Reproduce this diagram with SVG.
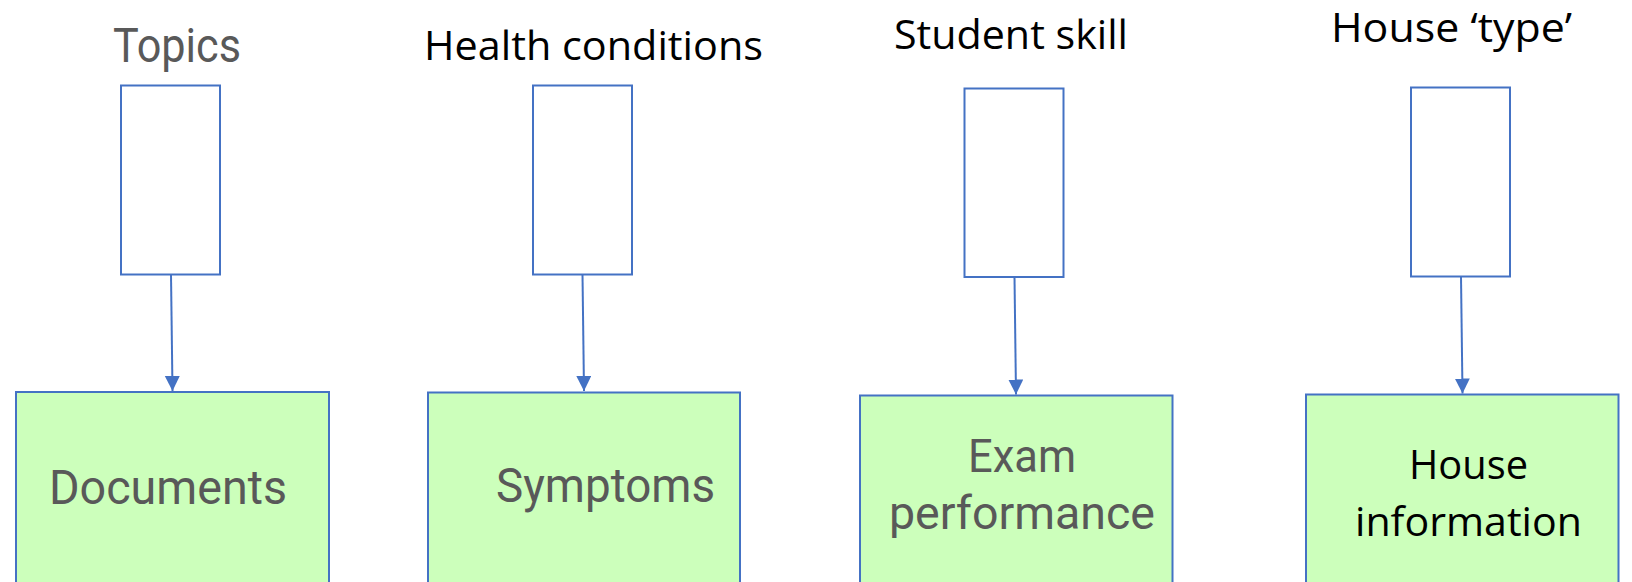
<svg xmlns="http://www.w3.org/2000/svg" width="1632" height="582" viewBox="0 0 1632 582">
  <style>
    .latent { fill: #ffffff; stroke: #4472c4; stroke-width: 2; }
    .observed { fill: #ccffbb; stroke: #4472c4; stroke-width: 2; }
    .edge { stroke: #4472c4; stroke-width: 2; fill: none; }
    .grey { font-family: Roboto, "Open Sans", sans-serif; fill: #595959; }
    .dark { font-family: "Open Sans", "Noto Sans", sans-serif; fill: #000000; }
  </style>
  <defs>
    <marker id="arrow" markerUnits="userSpaceOnUse" markerWidth="16" markerHeight="16" refX="15" refY="7.5" orient="auto">
      <path d="M0,0 L15,7.5 L0,15 Z" fill="#4472c4"/>
    </marker>
  </defs>
  <rect width="1632" height="582" fill="#ffffff"/>

  <!-- column 1 -->
  <g id="topics">
    <text class="grey" x="113" y="61.5" font-size="48" textLength="128" lengthAdjust="spacingAndGlyphs">Topics</text>
    <rect class="latent" x="121" y="85.5" width="99" height="189"/>
  </g>
  <g id="documents">
    <rect class="observed" x="16" y="392" width="313" height="195"/>
    <text class="grey" x="49" y="504" font-size="48" textLength="238" lengthAdjust="spacingAndGlyphs">Documents</text>
  </g>

  <!-- column 2 -->
  <g id="health-conditions">
    <text class="dark" x="424" y="60" font-size="41" textLength="339" lengthAdjust="spacingAndGlyphs">Health conditions</text>
    <rect class="latent" x="533" y="85.5" width="99" height="189"/>
  </g>
  <g id="symptoms">
    <rect class="observed" x="428" y="392.5" width="312" height="195"/>
    <text class="grey" x="496" y="501.5" font-size="48" textLength="219" lengthAdjust="spacingAndGlyphs">Symptoms</text>
  </g>

  <!-- column 3 -->
  <g id="student-skill">
    <text class="dark" x="894" y="48.5" font-size="41" textLength="234" lengthAdjust="spacingAndGlyphs">Student skill</text>
    <rect class="latent" x="964.5" y="88.5" width="99" height="188.5"/>
  </g>
  <g id="exam-performance">
    <rect class="observed" x="860" y="395.5" width="312.5" height="192"/>
    <text class="grey" x="968" y="471.5" font-size="47" textLength="108" lengthAdjust="spacingAndGlyphs">Exam</text>
    <text class="grey" x="889" y="528.5" font-size="47" textLength="266" lengthAdjust="spacingAndGlyphs">performance</text>
  </g>

  <!-- column 4 -->
  <g id="house-type">
    <text class="dark" x="1331" y="41.5" font-size="41" textLength="241" lengthAdjust="spacingAndGlyphs">House ‘type’</text>
    <rect class="latent" x="1411" y="87.5" width="99" height="189"/>
  </g>
  <g id="house-information">
    <rect class="observed" x="1306" y="394.5" width="312.5" height="193"/>
    <text class="dark" x="1409" y="478.5" font-size="41" textLength="119" lengthAdjust="spacingAndGlyphs">House</text>
    <text class="dark" x="1355" y="536" font-size="41" textLength="227" lengthAdjust="spacingAndGlyphs">information</text>
  </g>

  <!-- connectors -->
  <g id="edges">
    <line class="edge" x1="171" y1="274.5" x2="172.5" y2="391" marker-end="url(#arrow)"/>
    <line class="edge" x1="582.5" y1="274.5" x2="584" y2="391" marker-end="url(#arrow)"/>
    <line class="edge" x1="1014.5" y1="277" x2="1016" y2="394.5" marker-end="url(#arrow)"/>
    <line class="edge" x1="1461" y1="276.5" x2="1462.5" y2="393.5" marker-end="url(#arrow)"/>
  </g>
</svg>
